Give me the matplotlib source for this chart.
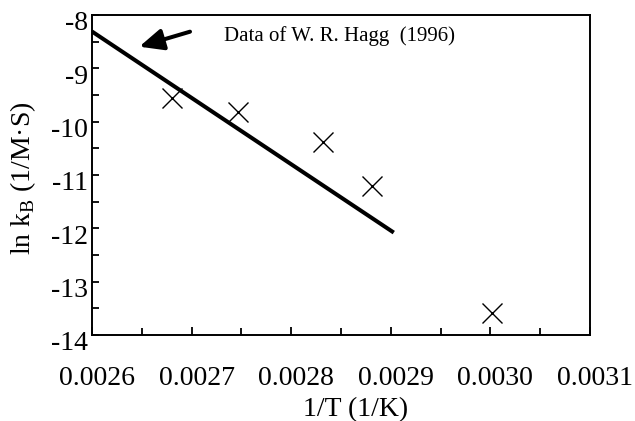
import matplotlib
matplotlib.use('Agg')
import matplotlib.pyplot as plt
from matplotlib.ticker import MultipleLocator, FormatStrFormatter
from matplotlib.transforms import ScaledTranslation

# Measured rate constants (Hagg 1996)
inv_T = [0.00268, 0.002747, 0.002832, 0.002881, 0.003002]
ln_kB = [-9.56, -9.81, -10.38, -11.20, -13.59]

# Straight-line fit drawn over the data
fit_x = [0.0026, 0.002903]
fit_y = [-8.31, -12.08]

plt.rcParams['font.family'] = 'Liberation Serif'
plt.rcParams['mathtext.fontset'] = 'custom'
plt.rcParams['mathtext.rm'] = 'Liberation Serif'
plt.rcParams['axes.unicode_minus'] = False

fig = plt.figure(figsize=(6.35, 4.21), dpi=100)
ax = fig.add_axes([0.1449, 0.2043, 0.7842, 0.7601])

ax.plot(fit_x, fit_y, color='black', lw=2.9, solid_capstyle='butt')
ax.plot(inv_T, ln_kB, linestyle='none', marker='x', color='black',
        markersize=14.5, markeredgewidth=1.0)

ax.annotate('', xy=(0.0026475, -8.594), xytext=(0.0026984, -8.313),
            arrowprops=dict(arrowstyle='-|>,head_length=0.4,head_width=0.18',
                            mutation_scale=36, lw=2.9, color='black',
                            shrinkA=0, shrinkB=0))
ax.text(0.0027325, -8.4875, 'Data of W. R. Hagg  (1996)', fontsize=15,
        va='baseline', ha='left')

ax.set_xlim(0.0026, 0.0031)
ax.set_ylim(-14, -8)
ax.xaxis.set_major_locator(MultipleLocator(0.0001))
ax.xaxis.set_minor_locator(MultipleLocator(0.00005))
ax.yaxis.set_major_locator(MultipleLocator(1))
ax.yaxis.set_minor_locator(MultipleLocator(0.5))
ax.xaxis.set_major_formatter(FormatStrFormatter('%.4f'))
ax.yaxis.set_major_formatter(FormatStrFormatter('%d'))

for s in ax.spines.values():
    s.set_linewidth(1.4)
ax.tick_params(axis='x', which='major', direction='in', length=5.8, width=1.3,
               pad=22, labelsize=20, top=False)
ax.tick_params(axis='x', which='minor', direction='in', length=4.8, width=1.3,
               top=False)
ax.tick_params(axis='y', which='both', direction='in', length=4.8, width=1.3,
               right=False)
ax.tick_params(axis='y', which='major', pad=3, labelsize=20)

# nudge tick labels a little, like the original spreadsheet layout
for lbl in ax.get_xticklabels():
    lbl.set_transform(lbl.get_transform() + ScaledTranslation(0.05, 0, fig.dpi_scale_trans))
for lbl in ax.get_yticklabels():
    lbl.set_transform(lbl.get_transform() + ScaledTranslation(0, -0.06, fig.dpi_scale_trans))

ax.set_xlabel('1/T (1/K)', fontsize=20)
ax.xaxis.set_label_coords(0.530, -0.2531)
ax.xaxis.label.set_va('baseline')
ax.set_ylabel(r'ln k$_\mathrm{B}$ (1/M·S)', fontsize=20)
ax.yaxis.set_label_coords(-0.1084, 0.4906)

fig.savefig('out.png', dpi=100)
